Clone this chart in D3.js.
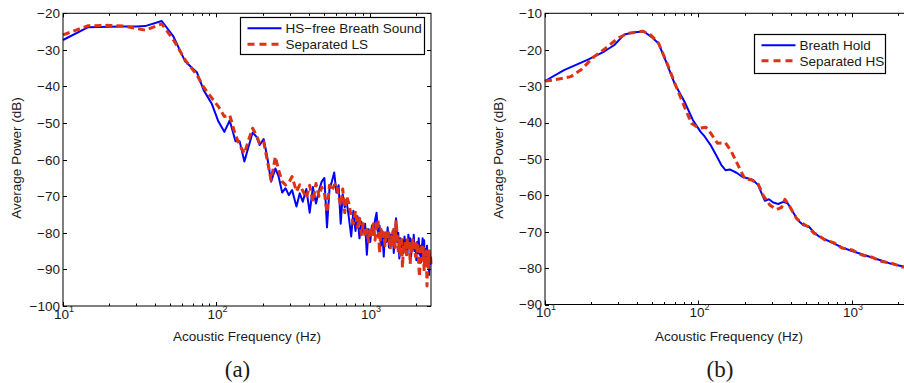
<!DOCTYPE html>
<meta charset="utf-8">
<style>
body { margin: 0; background: #fff; }
svg { font-family: Arial, "Liberation Sans", sans-serif; }
.tick-label { font-size: 13.5px; fill: #1a1a1a; }
.axis-title { font-size: 13.5px; fill: #1a1a1a; }
.panel-tag { font-family: "Liberation Serif", "Times New Roman", serif; font-size: 23px; fill: #1a1a1a; }
</style>
<svg width="904" height="383"></svg>
<script src="https://d3js.org/d3.v7.min.js"></script>
<script>

// ---- panel (a): HS-free breath sound vs separated LS ----
var leftFreq = [10, 14.6, 20, 25, 30, 34.3, 44, 52.5, 62.6, 74.7, 82.5, 93.4, 103, 112.5, 122, 133, 141.6, 152, 162, 172,
  182, 191, 203, 214, 227, 242, 254, 268, 282, 296, 311, 332, 349,
  365, 385, 405, 425, 445, 465, 485, 505, 525, 545, 565, 585, 605, 625, 645, 665, 685, 705, 730, 755,
  780, 805, 830, 855, 880, 905, 930, 955, 980, 1005, 1030, 1055, 1080, 1105, 1130, 1155, 1180, 1205, 1230, 1255,
  1280, 1305, 1330, 1355, 1380, 1405, 1430, 1455, 1480, 1505, 1530, 1555, 1580, 1605, 1630, 1655, 1680, 1705, 1730, 1755,
  1780, 1805, 1830, 1855, 1880, 1905, 1930, 1955, 1980, 2005, 2030, 2055, 2080, 2105, 2130, 2155, 2180, 2205, 2230, 2255,
  2280, 2305, 2330, 2355, 2380, 2405, 2430, 2455, 2480, 2500];

var hsFreeDb = [-27.3, -23.8, -23.7, -23.6, -23.6, -23.5, -22.1, -26.4, -33.2, -36.2, -41, -44.8, -49.6, -52.4, -49.3, -55, -55, -60.5, -56.4, -52.6,
  -53.7, -56, -54.4, -59.2, -66, -62.4, -64.6, -69, -67.8, -69.7, -68.3, -72.8, -69.2,
  -71.5, -68.0, -74.5, -67.5, -72.0, -68.5, -66.0, -65.0, -78.5, -68.0, -66.0, -63.5, -69.0, -67.0, -77.5, -69.5, -73.0, -71.5, -76.0, -81.0,
  -74.0, -79.5, -75.5, -81.5, -77.0, -80.0, -77.5, -86.0, -79.0, -82.5, -78.0, -80.5, -76.5, -74.5, -81.0, -78.0, -83.5, -79.5, -86.5, -80.0,
  -82.5, -78.5, -84.0, -80.5, -83.0, -79.5, -85.5, -81.0, -76.0, -82.5, -80.0, -87.0, -81.5, -84.0, -82.0, -85.5, -81.0, -84.5, -82.0, -86.0,
  -80.5, -83.5, -81.5, -86.5, -82.0, -84.5, -80.5, -85.0, -83.0, -87.5, -82.5, -85.5, -81.5, -86.0, -83.5, -88.0, -84.0, -81.5, -86.5, -82.0,
  -89.0, -84.5, -87.0, -83.5, -88.5, -85.0, -91.5, -86.0, -88.5, -87.0];

var sepLsDb = [-25.9, -23.4, -23.3, -23.5, -24.1, -24.6, -22.9, -27.3, -32.8, -36.9, -40.2, -43.2, -45.5, -48.2, -47.8, -53.3, -56, -58.3, -54.6, -51.4,
  -53.3, -55.5, -55.1, -60.1, -65.6, -59.2, -62.8, -66, -66.9, -66.3, -64.6, -68.7, -66.9,
  -68.5, -70.5, -67.0, -71.5, -66.5, -70.0, -67.5, -69.0, -74.5, -67.0, -68.5, -67.0, -66.5, -70.0, -72.5, -68.0, -74.5, -70.0, -72.0, -75.5,
  -77.5, -74.0, -78.5, -76.0, -80.5, -77.5, -81.0, -79.0, -82.5, -78.5, -80.5, -77.5, -82.0, -78.0, -76.5, -85.5, -79.0, -81.5, -80.0, -83.5,
  -79.5, -82.0, -80.0, -84.5, -81.0, -83.5, -79.0, -84.0, -76.5, -80.5, -85.0, -82.0, -86.5, -81.0, -89.5, -83.0, -85.5, -82.0, -86.0, -81.5,
  -84.0, -82.5, -88.5, -83.0, -85.0, -81.5, -84.5, -83.0, -86.5, -82.5, -85.0, -83.5, -89.0, -92.0, -84.5, -86.0, -83.0, -87.5, -84.0, -90.5,
  -85.5, -88.0, -85.0, -94.5, -86.0, -89.5, -84.5, -88.0, -86.0, -88.5];

// ---- panel (b): breath hold vs separated HS ----
var holdFreq = [10, 13.3, 18.9, 24.3, 28.3, 32.9, 38.2, 44, 49.1, 54.8, 61.5, 69.7, 81.1, 91.9, 103, 110, 120, 130.5, 141, 150,
  160, 177, 193, 211, 227, 245, 258, 271, 288, 307, 331, 357, 381, 409, 443, 483, 521, 561, 605, 669,
  759, 861, 1000, 1162, 1351, 1571, 1827, 2125, 2410, 2500];
var holdDb = [-28.6, -25.6, -22.8, -20.5, -18.7, -15.8, -15.2, -15.0, -16.4, -18.2, -23.3, -29.2, -34.3, -39.3, -42.5, -43.9, -46.2, -49, -51.7, -53.1,
  -52.9, -53.8, -54.9, -55.4, -55.8, -57.2, -59.5, -61.5, -61.1, -62, -62.4, -61.8, -62.2, -64.3, -66.8, -68.2, -68.5, -70, -71.2, -72.1,
  -73.2, -74.3, -75.3, -76.2, -77.1, -78, -78.9, -79.5, -79.7, -79.8];

var sepHsFreq = [10, 11.5, 14.7, 17.1, 20.9, 25.6, 29.7, 34.6, 43.4, 49, 54.8, 63.1, 71.6, 81.1, 89.9, 101, 111.7, 120.4, 133, 150,
  164, 181, 200, 222, 245, 264, 292, 323, 348, 366, 395, 436, 483, 521, 561, 605, 669, 759, 861, 1000,
  1162, 1351, 1571, 1827, 2125, 2410, 2500];
var sepHsDb = [-28.6, -28.3, -27.4, -25.6, -21.9, -19.2, -16.9, -15.5, -14.9, -16, -18.1, -24.2, -30.2, -35.7, -40.2, -41.6, -41.3, -43, -45.7, -45.6,
  -48, -51.7, -55.4, -55.8, -56.9, -60, -62.7, -63.9, -63.3, -61.1, -63.2, -66.4, -67.9, -68.7, -70.3, -71.0, -72.3, -73.0, -74.5, -75.0,
  -76.4, -77.0, -78.2, -78.7, -79.7, -79.6, -79.9];

var xTickLabels = ["1", "2", "3"];   // exponents of 10
var blue = "#0000ff", red = "#dd3311";

var svg = d3.select("svg");

function zip(f, v) { return f.map(function(d, i) { return [d, v[i]]; }); }

function drawPanel(p) {
  var x = d3.scaleLog().domain([10, 2500]).range([p.left, p.left + 368]);
  var y = d3.scaleLinear().domain(p.yDomain).range([p.bottom, p.top]);
  var g = svg.append("g");

  var line = d3.line()
      .x(function(d) { return x(d[0]); })
      .y(function(d) { return y(d[1]); });

  // series
  p.series.forEach(function(s) {
    g.append("path")
        .datum(zip(s.freq, s.db))
        .attr("fill", "none")
        .attr("stroke", s.color)
        .attr("stroke-width", s.dash ? 3 : 2)
        .attr("stroke-dasharray", s.dash ? "7,4" : null)
        .attr("stroke-linejoin", "round")
        .attr("d", line);
  });

  var x0 = x.range()[0], x1 = x.range()[1], yb = p.bottom, yt = p.top;

  // box
  g.append("rect")
      .attr("x", x0).attr("y", yt)
      .attr("width", x1 - x0).attr("height", yb - yt)
      .attr("fill", "none").attr("stroke", "#000").attr("stroke-width", 1);

  // y ticks (both sides) + labels
  var yt_ = y.ticks(8);
  g.selectAll(".ytick").data(yt_).enter().append("path")
      .attr("stroke", "#000")
      .attr("d", function(d) {
        var yy = Math.round(y(d)) + 0.5;
        return "M" + x0 + "," + yy + "h4M" + x1 + "," + yy + "h-4";
      });
  g.selectAll(".ylab").data(yt_).enter().append("text")
      .attr("class", "tick-label")
      .attr("x", x0 - 3)
      .attr("y", function(d) { return y(d); })
      .attr("dy", "0.36em")
      .attr("text-anchor", "end")
      .text(function(d) { return "\u2212" + Math.abs(d); });

  // x ticks: major at decades, minor between (top and bottom)
  var xt = x.ticks();
  g.selectAll(".xtick").data(xt).enter().append("path")
      .attr("stroke", "#000")
      .attr("d", function(d) {
        var len = Math.abs(Math.log10(d) % 1) < 1e-9 ? 4 : 2.5;
        var xx = Math.round(x(d)) + 0.5;
        return "M" + xx + "," + yb + "v" + (-len) + "M" + xx + "," + yt + "v" + len;
      });
  var lab = g.selectAll(".xlab").data(xTickLabels).enter().append("text")
      .attr("class", "tick-label")
      .attr("x", function(d) { return x(Math.pow(10, +d)) + 1; })
      .attr("y", yb + 12.5)
      .attr("text-anchor", "middle");
  lab.append("tspan").text("10");
  lab.append("tspan").attr("dy", -7).attr("font-size", 9).text(function(d) { return d; });

  // axis titles
  g.append("text")
      .attr("class", "axis-title")
      .attr("x", (x0 + x1) / 2)
      .attr("y", 341)
      .attr("text-anchor", "middle")
      .text("Acoustic Frequency (Hz)");
  g.append("text")
      .attr("class", "axis-title")
      .attr("transform", "translate(" + (x0 - 42) + ",158) rotate(-90)")
      .attr("text-anchor", "middle")
      .text("Average Power (dB)");

  g.append("text")
      .attr("class", "panel-tag")
      .attr("x", p.tagX)
      .attr("y", 377)
      .attr("text-anchor", "middle")
      .text(p.tag);

  // legend
  var L = p.legend;
  var lg = g.append("g");
  lg.append("rect")
      .attr("x", L.x).attr("y", L.y)
      .attr("width", L.w).attr("height", L.h)
      .attr("fill", "#fff").attr("stroke", "#000").attr("stroke-width", 1.2);
  p.series.forEach(function(s, i) {
    var ly = L.y + L.first + i * L.step;
    lg.append("line")
        .attr("x1", L.x + 7).attr("x2", L.x + 41)
        .attr("y1", ly).attr("y2", ly)
        .attr("stroke", s.color)
        .attr("stroke-width", s.dash ? 3 : 2)
        .attr("stroke-dasharray", s.dash ? "7,5" : null);
    lg.append("text")
        .attr("class", "axis-title")
        .attr("x", L.x + 45)
        .attr("y", ly)
        .attr("dy", "0.36em")
        .text(s.name);
  });
}

drawPanel({
  left: 63, top: 13.3, bottom: 306, yDomain: [-100, -20],
  tag: "(a)", tagX: 237.5,
  legend: {x: 240.5, y: 17.5, w: 184, h: 37, first: 10.8, step: 16},
  series: [
    {name: "HS\u2212free Breath Sound", freq: leftFreq, db: hsFreeDb, color: blue, dash: false},
    {name: "Separated LS", freq: leftFreq, db: sepLsDb, color: red, dash: true}
  ]
});

drawPanel({
  left: 545, top: 13.3, bottom: 304.5, yDomain: [-90, -10],
  tag: "(b)", tagX: 720,
  legend: {x: 754.5, y: 34.5, w: 131, h: 39, first: 10.8, step: 15.5},
  series: [
    {name: "Breath Hold", freq: holdFreq, db: holdDb, color: blue, dash: false},
    {name: "Separated HS", freq: sepHsFreq, db: sepHsDb, color: red, dash: true}
  ]
});

</script>
